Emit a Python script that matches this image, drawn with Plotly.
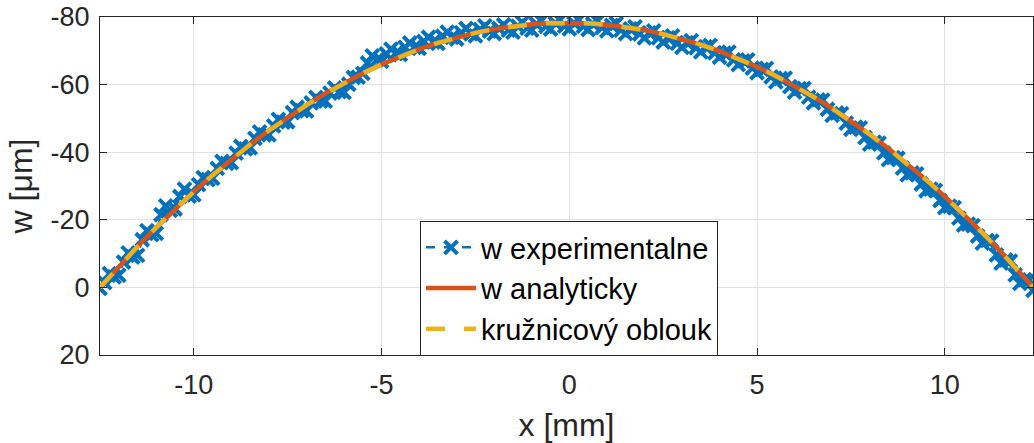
import plotly.graph_objects as go

# ---------------- data ----------------
x_exp = [-12.5, -12.375, -12.25, -12.125, -12.0, -11.875, -11.75, -11.625, -11.5,
         -11.375, -11.25, -11.125, -11.0,
         -10.875, -10.75, -10.625, -10.5, -10.375, -10.25,
         -10.125, -10.0, -9.875, -9.75, -9.625, -9.5, -9.375, -9.25, -9.125, -9.0,
         -8.875, -8.75, -8.625, -8.5, -8.375, -8.25, -8.125, -8.0, -7.875, -7.75,
         -7.625, -7.5, -7.375, -7.25, -7.125, -7.0,
         -6.875, -6.75, -6.625, -6.5, -6.375, -6.25, -6.125, -6.0, -5.875, -5.75,
         -5.625, -5.5, -5.375, -5.25, -5.125, -5.0, -4.875, -4.75, -4.625, -4.5,
         -4.375, -4.25, -4.125, -4.0,
         -3.875, -3.75, -3.625, -3.5, -3.375, -3.25, -3.125, -3.0, -2.875, -2.75,
         -2.625, -2.5, -2.375, -2.25, -2.125, -2.0,
         -1.875, -1.75, -1.625, -1.5, -1.375, -1.25, -1.125, -1.0, -0.875, -0.75,
         -0.625, -0.5, -0.375, -0.25, -0.125, 0.0, 0.125, 0.25, 0.375, 0.5,
         0.625, 0.75, 0.875, 1.0, 1.125, 1.25, 1.375, 1.5, 1.625, 1.75, 1.875, 2.0,
         2.125, 2.25, 2.375, 2.5, 2.625, 2.75, 2.875, 3.0, 3.125, 3.25, 3.375, 3.5,
         3.625, 3.75, 3.875, 4.0, 4.125, 4.25, 4.375, 4.5, 4.625, 4.75, 4.875, 5.0,
         5.125, 5.25, 5.375, 5.5, 5.625, 5.75, 5.875, 6.0, 6.125, 6.25, 6.375, 6.5,
         6.625, 6.75, 6.875, 7.0,
         7.125, 7.25, 7.375, 7.5, 7.625, 7.75, 7.875, 8.0, 8.125, 8.25, 8.375, 8.5,
         8.625, 8.75, 8.875, 9.0, 9.125, 9.25, 9.375, 9.5, 9.625, 9.75, 9.875, 10.0,
         10.125, 10.25, 10.375, 10.5, 10.625, 10.75, 10.875, 11.0,
         11.125, 11.25, 11.375, 11.5, 11.625, 11.75, 11.875, 12.0, 12.125, 12.25, 12.35]
w_exp = [0.3, -1.4, -4.1, -3.1, -3.6, -7.5, -10.2, -9.0, -9.5,
         -14.1, -16.8, -15.6, -16.0,
         -21.5, -24.1, -22.8, -23.2, -26.9, -29.1,
         -27.0, -27.4, -30.4, -32.5, -31.9, -32.3, -35.2, -37.3, -36.7, -36.9,
         -39.7, -41.7, -41.0, -41.3, -44.1, -46.0, -45.1, -45.1, -47.8, -49.7,
         -48.9, -49.0, -51.7, -53.3, -52.3, -52.2,
         -54.6, -56.2, -55.1, -55.1, -57.5, -59.0, -57.9, -57.7, -60.1, -62.1,
         -62.2, -63.3, -66.4, -68.5, -67.3, -66.9, -69.1, -70.5, -69.2, -68.9,
         -71.0, -72.3, -71.0, -70.7,
         -72.8, -74.0, -72.6, -72.2, -74.3, -75.5, -74.0, -73.5, -75.4, -76.6,
         -75.0, -74.4, -76.3, -77.4, -75.8, -75.1,
         -76.6, -77.7, -76.1, -75.5, -77.3, -78.4, -76.7, -76.1, -77.9, -78.9,
         -77.2, -76.4, -78.2, -79.1, -77.3, -76.5, -78.2, -79.1, -77.2, -76.3,
         -78.0, -78.8, -76.9, -75.9, -77.5, -78.1, -76.1, -75.1, -76.5, -77.1, -75.0, -73.8,
         -75.3, -75.9, -73.8, -72.6, -73.8, -74.4, -72.2, -71.0, -72.4, -73.0, -70.9, -69.7,
         -71.2, -71.6, -69.4, -68.1, -69.3, -69.6, -67.3, -65.9, -67.0, -67.3, -64.9, -63.5,
         -64.5, -64.8, -62.3, -60.8, -61.8, -61.9, -59.4, -57.8, -58.8, -58.9, -56.3, -54.6,
         -55.5, -55.4, -52.7, -50.9,
         -51.6, -51.4, -48.6, -46.8, -47.4, -47.2, -44.3, -42.4, -43.0, -42.7, -39.8, -37.8,
         -38.4, -38.2, -35.3, -33.3, -33.9, -33.6, -30.6, -28.6, -29.1, -28.7, -25.7, -23.6,
         -24.0, -23.6, -20.5, -18.4, -18.7, -18.3, -15.2, -13.1,
         -13.9, -13.7, -9.6, -7.2, -8.1, -7.8, -3.7, -1.2, -2.3, -2.2, 0.9]

x_model = [-12.5, -12.0, -11.5, -11.0, -10.5, -10.0, -9.5, -9.0, -8.5, -8.0,
           -7.5, -7.0, -6.5, -6.0, -5.5, -5.0, -4.5, -4.0, -3.5, -3.0,
           -2.5, -2.0, -1.5, -1.0, -0.5, 0.0, 0.5, 1.0, 1.5, 2.0,
           2.5, 3.0, 3.5, 4.0, 4.5, 5.0, 5.5, 6.0, 6.5, 7.0,
           7.5, 8.0, 8.5, 9.0, 9.5, 10.0, 10.5, 11.0, 11.5, 12.0,
           12.35]
w_analytic = [0.00, -6.17, -12.09, -17.76, -23.17, -28.33, -33.23, -37.89, -42.29, -46.43,
              -50.32, -53.96, -57.35, -60.48, -63.36, -65.98, -68.35, -70.47, -72.34, -73.95,
              -75.31, -76.41, -77.26, -77.86, -78.21, -78.30, -78.14, -77.72, -77.05, -76.13,
              -74.95, -73.52, -71.84, -69.91, -67.72, -65.27, -62.58, -59.63, -56.42, -52.97,
              -49.26, -45.30, -41.08, -36.61, -31.89, -26.91, -21.68, -16.20, -10.46, -4.47,
              -0.12]
w_arc = [0.00, -6.15, -12.07, -17.74, -23.15, -28.31, -33.21, -37.87, -42.28, -46.42,
         -50.31, -53.95, -57.34, -60.47, -63.35, -65.97, -68.34, -70.46, -72.33, -73.94,
         -75.30, -76.40, -77.25, -77.85, -78.20, -78.29, -78.13, -77.71, -77.04, -76.12,
         -74.94, -73.51, -71.83, -69.90, -67.71, -65.26, -62.57, -59.62, -56.41, -52.96,
         -49.25, -45.29, -41.07, -36.60, -31.88, -26.90, -21.67, -16.19, -10.45, -4.46,
         -0.10]

x_ticks = [-10, -5, 0, 5, 10]
y_ticks = [-80, -60, -40, -20, 0, 20]

# ---------------- figure ----------------
BLUE = "#0072BD"
RED = "#D95319"
YELLOW = "#EDB120"
AX = "#262626"
FONT = "Liberation Sans, Arial, sans-serif"

fig = go.Figure()
fig.add_trace(go.Scatter(
    x=x_exp, y=w_exp, mode="lines+markers", name="w experimentalne",
    line=dict(color=BLUE, width=2.5, dash="dash"),
    marker=dict(symbol="x-thin", size=13, color=BLUE, line=dict(width=4, color=BLUE)),
))
fig.add_trace(go.Scatter(
    x=x_model, y=w_analytic, mode="lines", name="w analyticky",
    line=dict(color=RED, width=4.5),
))
fig.add_trace(go.Scatter(
    x=x_model, y=w_arc, mode="lines", name="kružnicový oblouk",
    line=dict(color=YELLOW, width=4.5, dash="19px,19px"),
))

fig.update_layout(
    width=1034, height=443,
    margin=dict(l=100, r=1, t=17, b=88),
    paper_bgcolor="white", plot_bgcolor="white",
    font=dict(family=FONT, color=AX, size=27),
    showlegend=True,
    legend=dict(
        x=(420 - 100) / 933, y=(355 - 221) / 338, xanchor="left", yanchor="top",
        bgcolor="white", bordercolor=AX, borderwidth=1,
        font=dict(family=FONT, size=29, color="black"),
        tracegroupgap=0, itemwidth=50,
    ),
    xaxis=dict(
        range=[-12.5, 12.35], tickvals=x_ticks, ticktext=[str(v) for v in x_ticks],
        showgrid=True, gridcolor="#e1e1e1", gridwidth=1,
        zeroline=False, showline=True, linecolor=AX, linewidth=1.2, mirror="ticks",
        ticks="inside", ticklen=7, tickcolor=AX, tickwidth=1,
        tickfont=dict(size=27, color=AX), ticklabelstandoff=5,
        title=dict(text="x [mm]", font=dict(size=32, color=AX), standoff=16),
    ),
    yaxis=dict(
        range=[20, -80], tickvals=y_ticks, ticktext=[str(v) for v in y_ticks],
        showgrid=True, gridcolor="#e1e1e1", gridwidth=1,
        zeroline=False, showline=True, linecolor=AX, linewidth=1.2, mirror="ticks",
        ticks="inside", ticklen=7, tickcolor=AX, tickwidth=1,
        tickfont=dict(size=27, color=AX), ticklabelstandoff=4,
        title=dict(text="w [μm]", font=dict(size=32, color=AX), standoff=8),
    ),
)

fig.write_html("out.html")
